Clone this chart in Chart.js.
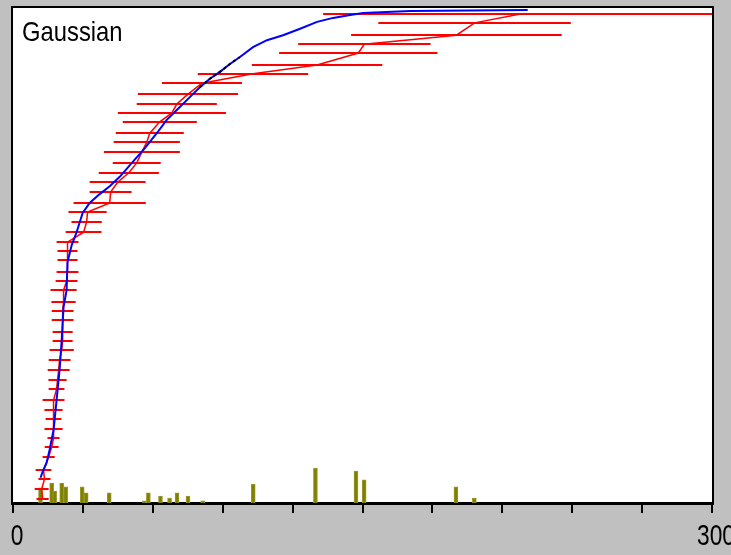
<!DOCTYPE html>
<html>
<head>
<meta charset="utf-8">
<script src="https://cdn.jsdelivr.net/npm/chart.js@4/dist/chart.umd.min.js"></script>
<style>
  html, body { margin: 0; padding: 0; background: #c0c0c0; }
  #wrap { width: 731px; height: 555px; }
</style>
</head>
<body>
<div id="wrap"><canvas id="gaussChart" width="731" height="555"></canvas></div>
<script>
// measured points (cumulative fraction) with horizontal error half-widths
const pointX = [217.8, 198.1, 190.3, 150.8, 148.2, 130.5, 103.0, 81.1, 75.1, 70.3,
  68.2, 63.0, 58.7, 57.4, 55.3, 53.1, 49.7, 44.9, 41.9, 41.5,
  32.0, 31.6, 30.3, 23.4, 23.4, 23.4, 23.4, 23.0, 21.7, 21.7,
  21.3, 21.3, 21.3, 21.3, 20.9, 20.0, 19.6, 19.1, 18.7, 17.4,
  17.4, 17.4, 17.4, 17.4, 16.6, 15.3, 13.1, 13.5, 12.3, 12.7];
const pointY = [0.988, 0.970, 0.945, 0.927, 0.909, 0.885, 0.867, 0.848, 0.826, 0.806,
  0.788, 0.770, 0.747, 0.729, 0.709, 0.687, 0.667, 0.648, 0.628, 0.606,
  0.588, 0.568, 0.547, 0.527, 0.509, 0.491, 0.467, 0.448, 0.430, 0.406,
  0.388, 0.370, 0.345, 0.327, 0.309, 0.289, 0.269, 0.248, 0.230, 0.208,
  0.188, 0.170, 0.149, 0.131, 0.113, 0.093, 0.067, 0.048, 0.028, 0.008];
const pointErr = [84.7, 41.3, 45.2, 28.4, 34.0, 28.0, 23.7, 17.2, 21.5, 17.2,
  23.2, 15.9, 14.6, 14.2, 16.3, 10.3, 12.9, 12.0, 9.0, 15.5,
  8.2, 6.5, 7.7, 4.7, 4.3, 4.3, 4.7, 4.7, 5.6, 5.2,
  4.7, 4.7, 4.3, 4.3, 5.2, 4.7, 4.7, 3.9, 3.4, 4.7,
  3.9, 3.4, 3.9, 2.6, 3.0, 2.6, 3.4, 2.6, 3.0, 2.6];

// fitted gaussian curve
const fitX = [11.8, 12.7, 14.4, 15.7, 17.4, 18.7, 20.0, 20.9, 21.7, 23.0,
  23.4, 25.2, 27.3, 29.9, 32.9, 37.2, 41.5, 45.8, 51.4, 56.6,
  61.7, 66.0, 70.3, 75.9, 80.2, 84.5, 88.8, 93.1, 97.4, 103.0,
  109.0, 115.9, 123.2, 130.5, 137.4, 144.7, 150.3, 170.5, 220.9];
const fitY = [0.051, 0.063, 0.081, 0.107, 0.147, 0.208, 0.269, 0.329, 0.396, 0.430,
  0.487, 0.521, 0.547, 0.586, 0.606, 0.624, 0.640, 0.659, 0.689, 0.717,
  0.747, 0.774, 0.794, 0.820, 0.840, 0.857, 0.871, 0.887, 0.901, 0.921,
  0.935, 0.945, 0.958, 0.972, 0.980, 0.986, 0.990, 0.994, 0.996];

// stretch where the curves overlap (drawn dark)
const overlapX = [80.2, 84.5, 88.8, 93.1, 97.4];
const overlapY = [0.840, 0.857, 0.871, 0.887, 0.901];

// histogram at the bottom
const binX = [11.8, 16.6, 17.9, 20.9, 22.6, 29.7, 31.4, 41.3, 56.4, 58.1,
  63.3, 67.2, 70.4, 75.1, 81.4, 103.1, 129.8, 147.2, 150.7, 190.1, 198.0];
const binCount = [4.3, 5.7, 3.4, 5.7, 4.6, 4.6, 2.9, 2.9, 0.6, 2.9,
  2.0, 1.4, 2.9, 2.0, 0.6, 5.4, 10.0, 9.1, 6.6, 4.6, 1.4];

const tickValues = [0, 30, 60, 90, 120, 150, 180, 210, 240, 270, 300];
const tickLabels = { 0: '0', 300: '300' };
const chartTitle = 'Gaussian';

// condensed text, like the old bitmap font
function narrowText(ctx, text, x, y, size, squeeze, align) {
  ctx.save();
  ctx.font = size + "px 'Liberation Sans', Arial, sans-serif";
  ctx.textBaseline = 'alphabetic';
  ctx.textAlign = align;
  ctx.translate(x, y);
  ctx.scale(squeeze, 1);
  ctx.fillText(text, 0, 0);
  ctx.restore();
}

const frame = {
  id: 'frame',
  beforeDraw(chart) {
    const { ctx, chartArea: a } = chart;
    ctx.save();
    ctx.fillStyle = '#c0c0c0';
    ctx.fillRect(0, 0, chart.width, chart.height);
    ctx.fillStyle = '#ffffff';
    ctx.fillRect(a.left, a.top, a.right - a.left, a.bottom - a.top);
    ctx.restore();
  },
  afterDraw(chart) {
    const { ctx, chartArea: a } = chart;
    const xs = chart.scales.x;
    ctx.save();
    ctx.strokeStyle = '#000';
    ctx.lineWidth = 2;
    ctx.strokeRect(a.left - 1, a.top - 1, a.right - a.left + 2, a.bottom - a.top + 2);
    ctx.fillStyle = '#000';
    narrowText(ctx, chartTitle, a.left + 9, a.top + 33, 28, 0.85, 'left');
    tickValues.forEach(v => {
      if (tickLabels[v]) narrowText(ctx, tickLabels[v], xs.getPixelForValue(v) + 4, 545, 30, 0.76, 'center');
    });
    ctx.restore();
  }
};

const errorBars = {
  id: 'errorBars',
  afterDatasetDraw(chart, args) {
    if (args.index !== 0) return;
    const { ctx, chartArea: a } = chart;
    const xs = chart.scales.x, ys = chart.scales.y;
    ctx.save();
    ctx.beginPath();
    ctx.rect(a.left, a.top, a.right - a.left, a.bottom - a.top);
    ctx.clip();
    ctx.strokeStyle = '#ff0000';
    ctx.lineWidth = 2;
    ctx.beginPath();
    pointX.forEach((x, i) => {
      const py = Math.round(ys.getPixelForValue(pointY[i]));
      ctx.moveTo(xs.getPixelForValue(x - pointErr[i]), py);
      ctx.lineTo(xs.getPixelForValue(x + pointErr[i]), py);
    });
    ctx.stroke();
    ctx.restore();
  }
};

const ctx = document.getElementById('gaussChart').getContext('2d');
const gaussChart = new Chart(ctx, {
  type: 'line',
  data: {
    datasets: [
      {
        type: 'bar',
        label: 'Histogram',
        data: binX.map((x, i) => ({ x: x, y: binCount[i] })),
        yAxisID: 'y2',
        backgroundColor: '#808000',
        borderColor: '#9a9a30',
        borderWidth: 1,
        barThickness: 4,
        grouped: false,
        order: 3
      },
      {
        label: 'Data',
        data: pointX.map((x, i) => ({ x: x, y: pointY[i] })),
        borderColor: '#ff0000',
        borderWidth: 1.5,
        pointRadius: 0,
        tension: 0,
        order: 2
      },
      {
        label: 'Gaussian',
        data: fitX.map((x, i) => ({ x: x, y: fitY[i] })),
        borderColor: '#0000ff',
        borderWidth: 2,
        pointRadius: 0,
        tension: 0,
        order: 1
      },
      {
        label: 'Overlap',
        data: overlapX.map((x, i) => ({ x: x, y: overlapY[i] })),
        borderColor: '#000000',
        borderWidth: 2,
        borderDash: [3, 3],
        pointRadius: 0,
        tension: 0,
        order: 0
      }
    ]
  },
  options: {
    responsive: false,
    animation: false,
    devicePixelRatio: 1,
    layout: { padding: { left: 13, right: 19, top: 8, bottom: 0 } },
    plugins: { legend: { display: false }, tooltip: { enabled: false } },
    scales: {
      x: {
        type: 'linear',
        min: 0,
        max: 300,
        offset: false,
        afterBuildTicks: (s) => { s.ticks = tickValues.map(v => ({ value: v })); },
        afterFit: (s) => { s.height = 52; s.paddingLeft = 0; s.paddingRight = 0; },
        ticks: { display: false },
        grid: { drawOnChartArea: false, offset: false, tickLength: 10, color: '#000', lineWidth: 2 },
        border: { color: '#000', width: 2 }
      },
      y: { display: false, min: 0, max: 1 },
      y2: { display: false, min: 0, max: 141.4 }
    }
  },
  plugins: [frame, errorBars]
});
</script>
</body>
</html>
